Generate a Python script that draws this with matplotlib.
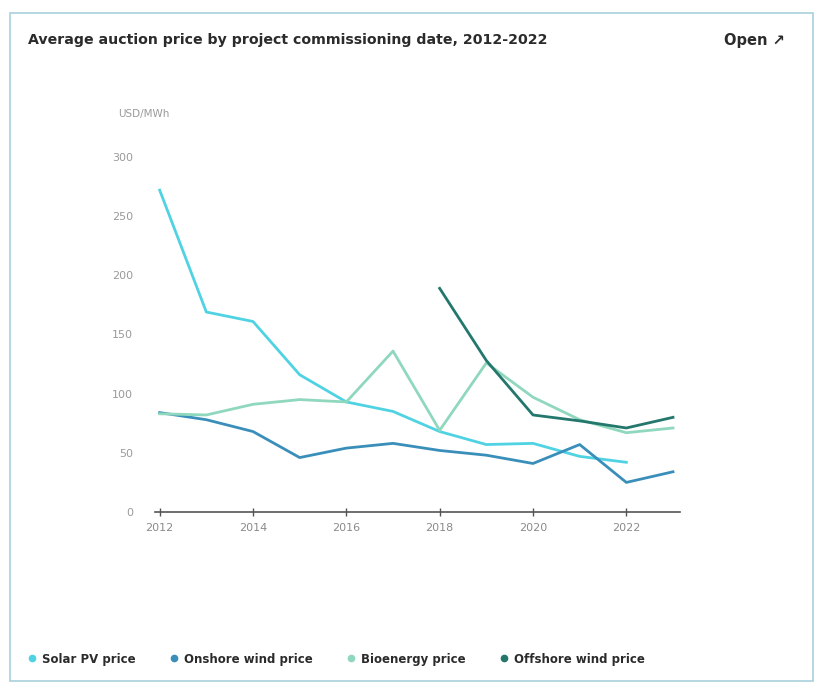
import matplotlib.pyplot as plt
from matplotlib.lines import Line2D
from matplotlib.patches import Rectangle

solar_years = list(range(2012, 2023))
solar_pv = [272, 169, 161, 116, 93, 85, 68, 57, 58, 47, 42]

onshore_years = list(range(2012, 2024))
onshore_wind = [84, 78, 68, 46, 54, 58, 52, 48, 41, 57, 25, 34]

bio_years = list(range(2012, 2024))
bioenergy = [83, 82, 91, 95, 93, 136, 69, 126, 97, 78, 67, 71]

offshore_years = list(range(2018, 2024))
offshore_wind = [189, 128, 82, 77, 71, 80]

series = [
    ("Solar PV price", solar_years, solar_pv, "#4fd3e3"),
    ("Onshore wind price", onshore_years, onshore_wind, "#3a8fba"),
    ("Bioenergy price", bio_years, bioenergy, "#8fd8bd"),
    ("Offshore wind price", offshore_years, offshore_wind, "#24776c"),
]

fig = plt.figure(figsize=(8.24, 6.86), dpi=100)

# card border
fig.patches.append(Rectangle((10 / 824, 5 / 686), 803 / 824, 668 / 686,
                             transform=fig.transFigure, fill=False,
                             edgecolor="#a9cfdc", linewidth=1.2))

fig.text(28 / 824, 1 - 40 / 686,
         "Average auction price by project commissioning date, 2012-2022",
         fontsize=10.2, fontweight="bold", color="#2b2b2b", va="center")
fig.text(785 / 824, 1 - 40 / 686, "Open \u2197", fontsize=10.5,
         fontweight="bold", color="#2b2b2b", va="center", ha="right")

ax = fig.add_axes([155 / 824, (686 - 512) / 686, 525 / 824, 355 / 686])
for name, xs, ys, c in series:
    ax.plot(xs, ys, color=c, linewidth=2.0, clip_on=False, solid_joinstyle="round")

ax.set_xlim(2011.9, 2023.15)
ax.set_ylim(0, 300)
ax.set_yticks([0, 50, 100, 150, 200, 250, 300])
ax.set_xticks(list(range(2012, 2023, 2)))
for s in ["top", "right", "left"]:
    ax.spines[s].set_visible(False)
ax.spines["bottom"].set_color("#555555")
ax.spines["bottom"].set_linewidth(1.2)
ax.tick_params(axis="y", length=0, pad=16, labelsize=8, labelcolor="#9a9a9a")
ax.tick_params(axis="x", length=6, width=1, color="#555555", direction="inout",
               pad=5, labelsize=8, labelcolor="#8a8a8a")
ax.text(-0.07, 1.12, "USD/MWh", transform=ax.transAxes, fontsize=7.5,
        color="#9a9a9a", ha="left", va="center")

handles = [Line2D([], [], marker="o", linestyle="none", markersize=4.5,
                  markerfacecolor=c, markeredgecolor=c) for _, _, _, c in series]
labels = [name for name, _, _, _ in series]
fig.legend(handles, labels, loc="center left",
           bbox_to_anchor=(15 / 824, 1 - 659 / 686), ncol=4, frameon=False,
           handletextpad=0.4, columnspacing=2.7, handlelength=1.0,
           prop={"size": 8.5, "weight": "bold"}, labelcolor="#2b2b2b")

fig.savefig("out.png", dpi=100)
